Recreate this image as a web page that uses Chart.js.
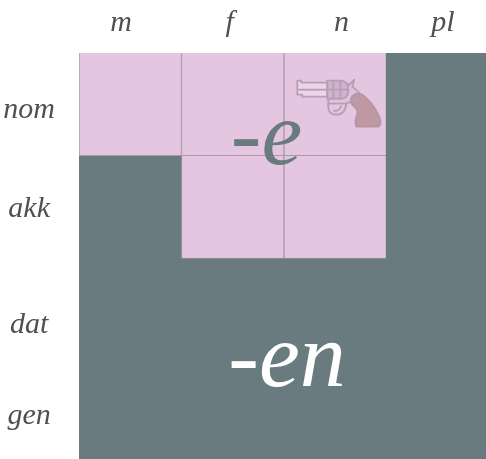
<!DOCTYPE html>
<html>
<head>
<meta charset="utf-8">
<script src="https://cdn.jsdelivr.net/npm/chart.js@4"></script>
<style>
    html, body { margin: 0; padding: 0; width: 486px; height: 459px; overflow: hidden; background: #fff; }
    canvas { display: block; }
</style>
</head>
<body>
<!-- the grid runs past the window on the right and bottom, the y axis also keeps some room under it -->
<canvas id="chart" width="489" height="506"></canvas>
<script>
const genders = ['m', 'f', 'n', 'pl'];
const cases = ['nom', 'akk', 'dat', 'gen'];

// every cell has the same size, the colour comes from the ending
const cellValues = [1, 1, 1, 1];
const nomEndings = ['-e', '-e', '-e', '-en'];
const akkEndings = ['-en', '-e', '-e', '-en'];
const datEndings = ['-en', '-en', '-en', '-en'];
const genEndings = ['-en', '-en', '-en', '-en'];
const allEndings = [nomEndings, akkEndings, datEndings, genEndings];

// the labels do not sit quite in the middle of the cells
const genderTickPos = [0.41, 1.47, 2.56, 3.55];
const caseTickPos = [0.56, 1.52, 2.65, 3.53];

const PINK = '#e4c6e0';
const SLATE = '#6a7b80';
const LINE = '#a898ad';
const LABEL = '#505050';

const cellColor = ending => (ending === '-e' ? PINK : SLATE);

// big endings written over the grid
const endingLabels = {
    id: 'endingLabels',
    afterDatasetsDraw(chart) {
        const { ctx, scales } = chart;
        ctx.save();
        ctx.textAlign = 'center';
        ctx.textBaseline = 'alphabetic';
        ctx.font = 'italic 92px "Liberation Serif"';
        ctx.fillStyle = SLATE;
        ctx.fillText('-e', scales.xTop.getPixelForValue(1.83), scales.y.getPixelForValue(1.08));
        ctx.fillStyle = '#ffffff';
        ctx.fillText('-en', scales.xTop.getPixelForValue(2.03), scales.y.getPixelForValue(3.24));
        ctx.restore();
    }
};

// little revolver in the corner of the neuter cell
const revolver = {
    id: 'revolver',
    afterDatasetsDraw(chart) {
        const { ctx, scales } = chart;
        const metal = '#b79db6';
        ctx.save();
        ctx.translate(scales.xTop.getPixelForValue(2.12), scales.y.getPixelForValue(0.25));
        ctx.lineWidth = 1.8;
        ctx.lineJoin = 'round';
        ctx.strokeStyle = metal;

        // barrel
        ctx.fillStyle = '#ebd5e9';
        const barrel = new Path2D('M1 2 H5 V4 H31 V18 H6 V16 H1 Z');
        ctx.fill(barrel);
        ctx.stroke(barrel);
        ctx.stroke(new Path2D('M2 11 H31'));

        // frame and hammer
        ctx.fillStyle = '#dcc2da';
        const frame = new Path2D('M45 3 L53 6 L58 1 L56 8 L63 14 L56 23 L49 25 H32 V20 H45 Z');
        ctx.fill(frame);
        ctx.stroke(frame);

        // cylinder
        ctx.fillStyle = '#d0b4cf';
        const cylinder = new Path2D('M31 2 H45 Q52 3 52 11 Q52 20 45 20 H31 Z');
        ctx.fill(cylinder);
        ctx.stroke(cylinder);
        ctx.stroke(new Path2D('M37 2 V20 M44 2 V20 M31 11 H52'));

        // trigger guard
        ctx.stroke(new Path2D('M32 25 Q31 36 40 36 Q49 36 50 25 M37 32 Q43 33 45 27'));

        // grip
        ctx.fillStyle = '#bf98a2';
        ctx.strokeStyle = '#b596a8';
        const grip = new Path2D('M55 19 Q59 13 66 16 Q76 23 83 38 Q86 46 82 48 L60 48 Q58 42 61 36 Q62 31 58 28 Q53 24 55 19 Z');
        ctx.fill(grip);
        ctx.stroke(grip);
        ctx.fillStyle = '#b79db6';
        ctx.beginPath();
        ctx.arc(60, 21, 3, 0, Math.PI * 2);
        ctx.moveTo(80, 44);
        ctx.arc(78.4, 44, 1.6, 0, Math.PI * 2);
        ctx.fill();
        ctx.restore();
    }
};

const ctx = document.getElementById('chart').getContext('2d');

new Chart(ctx, {
    type: 'bar',
    data: {
        labels: genders,
        datasets: cases.map((name, i) => ({
            label: name,
            data: cellValues,
            backgroundColor: allEndings[i].map(cellColor),
            borderColor: LINE,
            borderWidth: allEndings[i].map(e => (e === '-e' ? 1 : 0)),
            // dark cells overlap a little so no seams show between them
            inflateAmount: allEndings[i].map(e => (e === '-e' ? 0.33 : 0.6)),
            barPercentage: 1,
            categoryPercentage: 1
        }))
    },
    options: {
        responsive: false,
        animation: false,
        layout: { padding: 0 },
        plugins: {
            legend: { display: false },
            tooltip: { enabled: false }
        },
        scales: {
            x: {
                stacked: true,
                display: false
            },
            // shows the gender labels, the bars stay on the category axis
            xTop: {
                type: 'linear',
                position: 'top',
                offset: false,
                min: 0,
                max: 4,
                grid: { display: false, drawTicks: false },
                border: { display: false },
                afterFit: scale => { scale.height = 53; },
                afterBuildTicks: scale => {
                    scale.ticks = genderTickPos.map(value => ({ value }));
                },
                ticks: {
                    autoSkip: false,
                    maxRotation: 0,
                    padding: 12,
                    color: LABEL,
                    font: { family: 'Liberation Serif', style: 'italic', size: 30 },
                    callback: value => genders[genderTickPos.indexOf(value)]
                }
            },
            y: {
                stacked: true,
                reverse: true,
                min: 0,
                max: 4,
                grid: { display: false, drawTicks: false },
                border: { display: false },
                afterFit: scale => { scale.width = 79; },
                afterBuildTicks: scale => {
                    scale.ticks = caseTickPos.map(value => ({ value }));
                },
                ticks: {
                    autoSkip: false,
                    crossAlign: 'center',
                    padding: 24,
                    color: LABEL,
                    font: { family: 'Liberation Serif', style: 'italic', size: 30 },
                    callback: value => cases[caseTickPos.indexOf(value)]
                }
            }
        }
    },
    plugins: [revolver, endingLabels]
});
</script>
</body>
</html>
